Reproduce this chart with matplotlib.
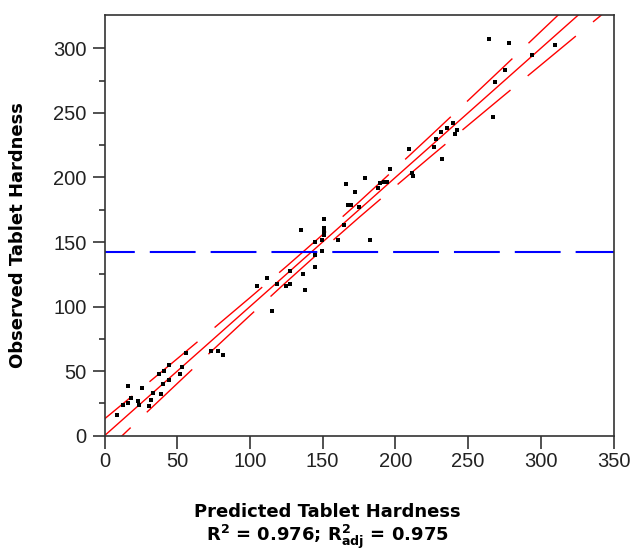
import numpy as np
import matplotlib
matplotlib.use("Agg")
import matplotlib.pyplot as plt

plt.rcParams['mathtext.fontset'] = 'dejavusans'

##---- Data ----##

# predicted vs observed tablet hardness
predicted = [8.4, 16.4, 12.5, 16.4, 18.0, 23.3, 23.9, 25.6, 30.8, 32.0, 33.6, 38.9,
             37.7, 40.9, 40.4, 44.4, 44.4, 51.9, 53.1, 56.1, 73.2, 78.3, 81.3,
             104.7, 111.5, 115.4, 118.4, 124.6, 127.6, 127.6, 136.7, 137.9, 144.8,
             144.8, 144.8, 149.8, 135.1, 149.8, 151.0, 151.0, 151.0, 151.0, 160.4,
             182.6, 164.9, 165.9, 172.3, 167.3, 169.5, 175.0, 179.2, 188.3, 189.5,
             192.2, 194.1, 196.4, 209.4, 211.3, 212.0, 226.6, 228.0, 231.9, 231.4,
             235.8, 239.9, 242.2, 241.1, 267.4, 268.8, 275.4, 264.7, 278.2, 294.2,
             309.8]
observed = [16.0, 38.5, 23.8, 25.1, 29.4, 26.9, 23.8, 36.7, 23.2, 27.7, 32.8, 32.3,
            47.6, 50.4, 39.8, 54.8, 43.1, 47.6, 53.5, 63.8, 65.6, 65.6, 62.5,
            116.0, 121.9, 96.6, 117.3, 116.0, 117.5, 127.8, 125.0, 112.9, 130.9,
            140.0, 149.8, 143.1, 159.3, 151.6, 155.5, 158.0, 160.6, 167.9, 151.6,
            151.6, 163.2, 195.0, 189.0, 178.5, 178.5, 176.9, 199.4, 191.6, 195.5,
            196.7, 196.7, 206.6, 222.1, 203.3, 201.2, 223.4, 229.6, 214.6, 235.0,
            238.1, 242.5, 236.8, 233.7, 247.1, 274.0, 283.0, 307.0, 304.0, 294.9,
            302.6]

# fit line and confidence bands
fit_x = [0, 350]
fit_y = [0, 350]
band_x = [0, 25, 50, 75, 100, 125, 150, 175, 200, 225, 250, 275, 300, 325, 350]
band_upper = [13.0, 36.2, 59.6, 83.1, 106.9, 131.0, 155.7, 181.0, 206.9, 233.1,
              259.6, 286.2, 313.0, 339.7, 366.5]
band_lower = [-13.0, 13.8, 40.4, 66.9, 93.1, 119.0, 144.3, 169.0, 193.1, 216.9,
              240.4, 263.8, 287.0, 310.3, 333.5]

mean_observed = 142.0

x_ticks = [0, 50, 100, 150, 200, 250, 300, 350]
y_ticks = [0, 50, 100, 150, 200, 250, 300]
y_minor = [25, 75, 125, 175, 225, 275]

##---- Figure ----##

fig = plt.figure(figsize=(6.3, 5.5), dpi=100)
ax = fig.add_axes([104.5 / 630, 1 - 435.7 / 550, 509 / 630, 420.7 / 550])

ax.plot(band_x, band_upper, color="red", lw=1.0, linestyle=(19, (45, 16)))
ax.plot(band_x, band_lower, color="red", lw=1.0, linestyle=(19, (45, 16)))
ax.plot(fit_x, fit_y, color="red", lw=1.0)
ax.axhline(mean_observed, color="blue", lw=1.5, linestyle=(7.7, (22, 7.2)))
ax.plot(predicted, observed, "s", color="black", ms=3.5, mew=0)

ax.set_xlim(0, 350)
ax.set_ylim(0, 325.8)
ax.set_xticks(x_ticks)
ax.set_yticks(y_ticks)
ax.set_yticks(y_minor, minor=True)

for lab in ax.get_xticklabels() + ax.get_yticklabels():
    lab.set_family("Liberation Sans")
    lab.set_fontsize(14.5)
    lab.set_color("#222222")
ax.tick_params(axis="both", which="major", direction="out", length=9, width=1.1,
               pad=3, color="#222222")
ax.tick_params(axis="y", which="minor", direction="out", length=4.3, width=1.1,
               color="#222222")
ax.tick_params(axis="y", pad=4)

for sp in ax.spines.values():
    sp.set_linewidth(1.2)
    sp.set_color("#333333")

lab_font = dict(family="DejaVu Sans", fontsize=13, fontweight="bold")
fig.text(18.5 / 630, 1 - 235 / 550, "Observed Tablet Hardness", rotation=90,
         ha="center", va="center", **lab_font)
fig.text(327 / 630, 1 - 512 / 550, "Predicted Tablet Hardness",
         ha="center", va="center", **lab_font)
fig.text(327 / 630, 1 - 537 / 550,
         r"R$^{\mathbf{2}}$ = 0.976; R$^{\mathbf{2}}_{\mathbf{adj}}$ = 0.975",
         ha="center", va="center", **lab_font)

fig.savefig("out.png", dpi=100)
